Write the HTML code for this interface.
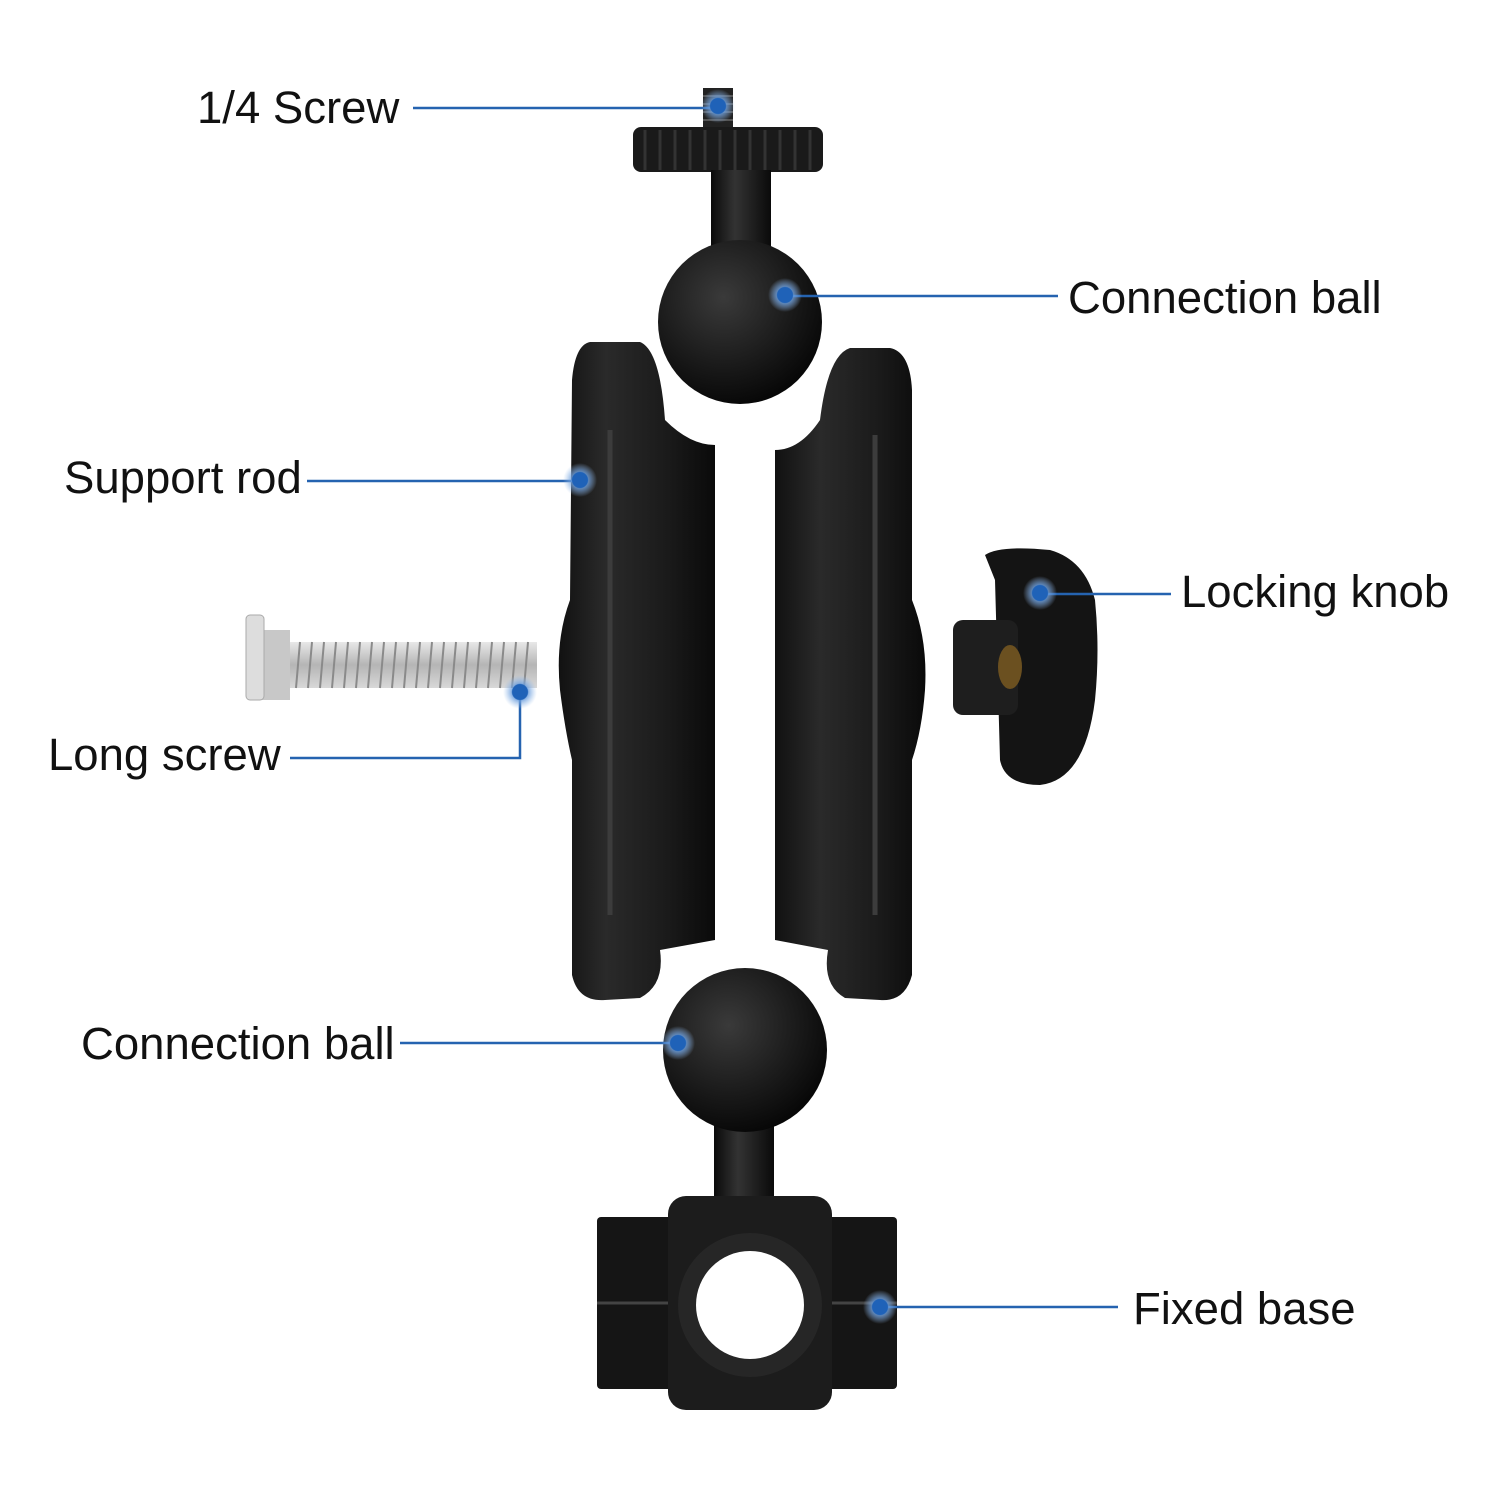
<!DOCTYPE html>
<html><head><meta charset="utf-8"><style>
html,body{margin:0;padding:0;background:#fff}
svg{display:block}
text{font-family:"Liberation Sans",sans-serif;font-size:45.5px;fill:#111}
</style></head><body>
<svg width="1500" height="1500" viewBox="0 0 1500 1500" xmlns="http://www.w3.org/2000/svg">
<defs>
<radialGradient id="ball" cx="0.4" cy="0.35" r="0.7">
<stop offset="0" stop-color="#3a3a3a"/><stop offset="0.6" stop-color="#1a1a1a"/><stop offset="1" stop-color="#050505"/></radialGradient>
<linearGradient id="arm" x1="0" x2="1" y1="0" y2="0">
<stop offset="0" stop-color="#111"/><stop offset="0.3" stop-color="#2a2a2a"/><stop offset="0.7" stop-color="#1a1a1a"/><stop offset="1" stop-color="#0a0a0a"/></linearGradient>
<linearGradient id="stem" x1="0" x2="1">
<stop offset="0" stop-color="#0a0a0a"/><stop offset="0.4" stop-color="#333"/><stop offset="1" stop-color="#0a0a0a"/></linearGradient>
<linearGradient id="steel" x1="0" x2="0" y1="0" y2="1">
<stop offset="0" stop-color="#e8e8e8"/><stop offset="0.5" stop-color="#b5b5b5"/><stop offset="1" stop-color="#d8d8d8"/></linearGradient>
<radialGradient id="dot"><stop offset="0" stop-color="#1f62b8"/><stop offset="0.45" stop-color="#1f62b8"/><stop offset="0.5" stop-color="#6fa0dd" stop-opacity="0.8"/><stop offset="1" stop-color="#9cc0ec" stop-opacity="0"/></radialGradient>
</defs>

<rect x="703" y="88" width="30" height="42" fill="#222"/>
<path d="M703 96h30M703 104h30M703 112h30M703 120h30" stroke="#555" stroke-width="2"/>
<rect x="633" y="127" width="190" height="45" rx="8" fill="#1a1a1a"/>
<path d="M645 130v40M660 130v40M675 130v40M690 130v40M705 130v40M720 130v40M735 130v40M750 130v40M765 130v40M780 130v40M795 130v40M810 130v40" stroke="#333" stroke-width="3"/>
<rect x="711" y="170" width="60" height="120" fill="url(#stem)"/>
<circle cx="740" cy="322" r="82" fill="url(#ball)"/>

<path d="M590 342 Q575 345 572 380 L570 600 Q555 640 560 690 Q565 730 572 760 L572 975 Q578 1002 605 1000 L640 998 Q665 985 660 950 L715 940 L715 445 Q690 445 665 420 Q660 350 640 342 Z" fill="url(#arm)"/>
<path d="M610 430 L610 915" stroke="#3c3c3c" stroke-width="5"/>
<path d="M890 348 Q910 352 912 390 L912 600 Q928 640 925 690 Q922 730 912 760 L912 975 Q905 1002 880 1000 L845 998 Q822 985 828 950 L775 940 L775 450 Q800 450 820 420 Q828 355 850 348 Z" fill="url(#arm)"/>
<path d="M875 435 L875 915" stroke="#3c3c3c" stroke-width="5"/>

<rect x="714" y="1080" width="60" height="130" fill="url(#stem)"/>
<circle cx="745" cy="1050" r="82" fill="url(#ball)"/>

<rect x="597" y="1217" width="300" height="172" rx="4" fill="#151515"/>
<path d="M597 1303h300" stroke="#444" stroke-width="3"/>
<rect x="668" y="1196" width="164" height="214" rx="18" fill="#1c1c1c"/>
<circle cx="750" cy="1305" r="72" fill="#262626"/>
<circle cx="750" cy="1305" r="54" fill="#fff"/>

<path d="M985 555 Q1000 545 1050 550 Q1085 560 1095 600 Q1100 650 1095 700 Q1085 780 1040 785 Q1005 785 1000 760 L995 580 Z" fill="#141414"/>
<rect x="953" y="620" width="65" height="95" rx="10" fill="#1e1e1e"/>
<ellipse cx="1010" cy="667" rx="12" ry="22" fill="#6b5020"/>

<rect x="282" y="642" width="255" height="46" fill="url(#steel)"/>
<path d="M300 642l-4 46M312 642l-4 46M324 642l-4 46M336 642l-4 46M348 642l-4 46M360 642l-4 46M372 642l-4 46M384 642l-4 46M396 642l-4 46M408 642l-4 46M420 642l-4 46M432 642l-4 46M444 642l-4 46M456 642l-4 46M468 642l-4 46M480 642l-4 46M492 642l-4 46M504 642l-4 46M516 642l-4 46M528 642l-4 46" stroke="#8a8a8a" stroke-width="2"/>
<rect x="262" y="630" width="28" height="70" fill="#c8c8c8"/>
<rect x="246" y="615" width="18" height="85" rx="4" fill="#ddd" stroke="#aaa"/>

<g stroke="#2563b0" stroke-width="2.5" fill="none">
<path d="M413 108H718"/>
<path d="M785 296H1058"/>
<path d="M307 481H580"/>
<path d="M1040 594H1171"/>
<path d="M290 758H520V692"/>
<path d="M400 1043H678"/>
<path d="M880 1307H1118"/>
</g>
<g fill="url(#dot)">
<circle cx="718" cy="106" r="17"/>
<circle cx="785" cy="295" r="17"/>
<circle cx="580" cy="480" r="17"/>
<circle cx="1040" cy="593" r="17"/>
<circle cx="520" cy="692" r="17"/>
<circle cx="678" cy="1043" r="17"/>
<circle cx="880" cy="1307" r="17"/>
</g>

<text x="197" y="123">1/4 Screw</text>
<text x="1068" y="313">Connection ball</text>
<text x="64" y="493">Support rod</text>
<text x="1181" y="607">Locking knob</text>
<text x="48" y="770">Long screw</text>
<text x="81" y="1059">Connection ball</text>
<text x="1133" y="1324">Fixed base</text>
</svg>
</body></html>
